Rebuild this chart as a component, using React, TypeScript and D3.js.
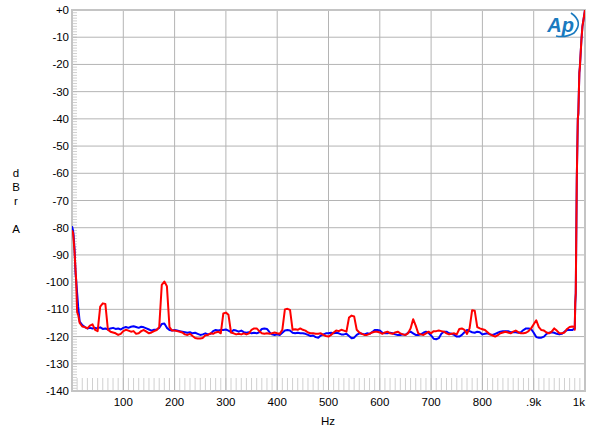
import React from "react";
import * as d3 from "d3";

const startFreq = [0, 2, 3, 5, 7, 8, 10, 12];
const startBlue = [-79.5, -81, -82.5, -88, -97, -99, -104, -109];
const startRed = [-81, -82, -84, -89, -96, -99, -111, -112];

// regular 5 Hz grid, 15..975 Hz
const gridStart = 15;
const gridStep = 5;

const redGrid = [
  -115, -116.3, -116.5, -117, -116, -115.5, -117.5, -118, -109, -107.8, -108, -117.5, -118.2, -118.5, -118.8, -119.4, -119, -118,
  -117.5, -117.8, -118.2, -118, -119, -118.8, -118, -117.6, -118.2, -118.8, -118.5, -118, -117.6, -116.5, -101, -99.8, -101.5, -116.5,
  -117.8, -117.8, -118, -118.2, -118.5, -119.2, -119.4, -119, -119.8, -120.5, -120.7, -120.7, -120.5, -119.5, -119.4, -118.8, -119, -118.5,
  -118.2, -118.8, -111.5, -111.2, -112, -118.5, -118.8, -119.2, -119, -119.2, -118.8, -119.2, -118.8, -117.5, -117, -117, -118, -118.8,
  -119, -118.8, -119, -118.8, -118.5, -118.8, -119, -117.5, -110, -109.8, -110.2, -117.5, -117.3, -117.5, -117, -117.5, -117.8, -118.5,
  -118.8, -118.8, -119, -119, -118.8, -119.4, -119.8, -120, -119.4, -118.5, -117.8, -118, -117.5, -117.8, -118.2, -113, -112.3, -112.6,
  -117.5, -118.5, -119, -119.4, -119.4, -119, -118.5, -118.2, -118.2, -118.5, -119, -118.5, -118.2, -118.8, -119, -118.5, -118.2, -118.8,
  -119.2, -119.4, -118.8, -117, -113.6, -116, -118.8, -119.2, -119.4, -118.8, -118.2, -118.8, -118, -118, -117.8, -118, -118.2, -118.8,
  -119.2, -119, -118.8, -119.2, -117.2, -117, -117.5, -119, -117, -110.3, -110.5, -116.5, -117, -117.3, -117.6, -118.4, -119.2, -119.6,
  -120, -119.5, -118.8, -118.5, -118.2, -118.5, -118.8, -118.2, -117.8, -118.4, -118.8, -118.8, -118.6, -118, -117, -115.5, -114, -116.5,
  -117.6, -117.8, -118.5, -118.8, -118.2, -117, -117.8, -118.8, -118.8, -118.5, -117.2, -116.5, -116.3, -116.5,
];

const blueGrid = [
  -114.5, -115.8, -116.5, -117, -116.8, -117, -116.8, -117, -116.6, -117.2, -117, -117.4, -117, -116.8, -117.2, -117, -117.4, -116.8,
  -116.5, -116.8, -116.4, -116.2, -116.5, -116.8, -116.4, -116.6, -117, -117.4, -117.8, -117.5, -117.4, -116.8, -115.4, -115.2, -116.8, -117.6,
  -117.8, -117.6, -117.8, -118, -118.2, -118.4, -118.6, -118.4, -118.8, -118.6, -119, -119.4, -119.2, -118.8, -119.2, -119, -118, -117.6,
  -117.8, -117.6, -117.6, -117.4, -117.8, -118.4, -117.6, -117.8, -118.2, -117.8, -118.4, -118.6, -118.4, -118.8, -118.6, -118.8, -118.4, -117.2,
  -117, -117.2, -118.4, -119.2, -119.4, -119.2, -119.4, -118.6, -117.8, -117.6, -117.8, -118.6, -118.8, -118.6, -118.8, -118.8, -119, -119.4,
  -119.8, -119.6, -120.2, -120.4, -119.6, -119.2, -118.8, -118.8, -118.6, -118.8, -118.6, -118.8, -119.2, -119.2, -119, -119.8, -120.6, -120.4,
  -119.4, -118.8, -119, -119.2, -118.8, -119, -118.4, -117.6, -117.6, -117.8, -118.6, -118.8, -118.8, -118.6, -118.8, -119.2, -119.4, -119.4,
  -119.2, -119.4, -118.6, -118.2, -118.8, -119.4, -119.4, -119.2, -118.6, -118.2, -118.6, -119.6, -120.8, -121, -120.6, -119, -118.2, -118.2,
  -118.8, -119, -119.4, -120, -120, -119.4, -118.4, -117.6, -118, -118.4, -118.6, -118.2, -118.4, -119.2, -119, -118.8, -119.2, -119.4,
  -119, -118.6, -118.2, -118, -118, -118, -118.4, -118.4, -118.4, -118.6, -118.4, -117.6, -117, -117, -117.2, -118.6, -120.2, -120.4,
  -120.4, -120, -119, -118.6, -118.4, -118.6, -119, -119.2, -119, -118.2, -117.6, -117.6, -117.6,
];

const endFreq = [980, 981, 982, 984, 986, 987, 989, 990, 993, 995, 1000];
const endRed = [-117.5, -107.5, -104, -62, -40, -38, -23, -21, -11, -6, 0];
const endBlue = [-117, -108, -104, -62, -40, -38, -23, -21, -11, -6, 0];

const yTicks = [0, -10, -20, -30, -40, -50, -60, -70, -80, -90, -100, -110, -120, -130, -140];
const xTicks = [100, 200, 300, 400, 500, 600, 700, 800, 900, 1000];
const xTickLabels = ["100", "200", "300", "400", "500", "600", "700", "800", ".9k", "1k"];
const yAxisLetters = ["d", "B", "r", "", "A"];

type Pt = [number, number];

function buildSeries(sf: number[], sv: number[], grid: number[], ef: number[], ev: number[]): Pt[] {
  const pts: Pt[] = [];
  sf.forEach((f, i) => pts.push([f, sv[i]]));
  grid.forEach((v, i) => pts.push([gridStart + i * gridStep, v]));
  ef.forEach((f, i) => pts.push([f, ev[i]]));
  return pts;
}

export default function App() {
  const W = 600, H = 434;
  const left = 72, right = 585, top = 10, bottom = 391;
  const x = d3.scaleLinear().domain([0, 1000]).range([left, right]);
  const y = d3.scaleLinear().domain([0, -140]).range([top, bottom]);
  const line = d3.line<Pt>().x((d) => x(d[0])).y((d) => y(d[1]));

  const red = buildSeries(startFreq, startRed, redGrid, endFreq, endRed);
  const blue = buildSeries(startFreq, startBlue, blueGrid, endFreq, endBlue);

  const minorY = d3.range(0, -141, -1);
  const minorX = d3.range(10, 1000, 10);
  const font = "'Liberation Sans', Arial, sans-serif";

  return (
    <svg width={W} height={H} style={{ position: "absolute", left: 0, top: 0, background: "#fff" }}>
      <rect x={0} y={0} width={W} height={H} fill="#fff" />
      <defs>
        <clipPath id="plotclip">
          <rect x={left} y={top} width={right - left} height={bottom - top} />
        </clipPath>
      </defs>
      {minorY.map((v) => (
        <line key={"my" + v} x1={left} x2={left + 5} y1={y(v)} y2={y(v)} stroke="#d0d0d0" strokeWidth={1} />
      ))}
      {minorX.map((v) => (
        <line key={"mx" + v} x1={x(v)} x2={x(v)} y1={bottom - 13} y2={bottom} stroke="#d0d0d0" strokeWidth={1} />
      ))}
      {yTicks.slice(1, -1).map((v) => (
        <line key={"gy" + v} x1={left} x2={right} y1={y(v)} y2={y(v)} stroke="#b4b4b4" strokeWidth={1} />
      ))}
      {xTicks.slice(0, -1).map((v) => (
        <line key={"gx" + v} x1={x(v)} x2={x(v)} y1={top} y2={bottom} stroke="#b4b4b4" strokeWidth={1} />
      ))}
      <rect x={left} y={top} width={right - left} height={bottom - top} fill="none" stroke="#c4c4c4" strokeWidth={2} />
      <g clipPath="url(#plotclip)">
        <path d={line(blue) || ""} fill="none" stroke="#0000ff" strokeWidth={2} strokeLinejoin="round" />
        <path d={line(red) || ""} fill="none" stroke="#ff0000" strokeWidth={2} strokeLinejoin="round" />
      </g>
      {yTicks.map((v) => (
        <text key={"ty" + v} x={69} y={y(v)} dy="0.35em" textAnchor="end" fontFamily={font} fontSize={11.5} fill="#000">
          {v === 0 ? "+0" : String(v)}
        </text>
      ))}
      {xTicks.map((v, i) => (
        <text key={"tx" + v} x={x(v)} y={406} textAnchor={i === xTicks.length - 1 ? "end" : "middle"} fontFamily={font} fontSize={11.5} fill="#000">
          {xTickLabels[i]}
        </text>
      ))}
      {yAxisLetters.map((c, i) => (
        <text key={"yl" + i} x={16} y={177 + i * 14} textAnchor="middle" fontFamily={font} fontSize={11.5} fill="#000">
          {c}
        </text>
      ))}
      <text x={328} y={425} textAnchor="middle" fontFamily={font} fontSize={11.5} fill="#000">Hz</text>
      <g>
        <path d="M 571 13 Q 584 22 574 33 Q 566 38 556 36" fill="none" stroke="#1a7abf" strokeWidth={1.6} />
        <text x={574} y={32} textAnchor="end" fontFamily={font} fontSize={20} fontWeight="bold" fontStyle="italic" fill="#1a7abf">Ap</text>
      </g>
    </svg>
  );
}
